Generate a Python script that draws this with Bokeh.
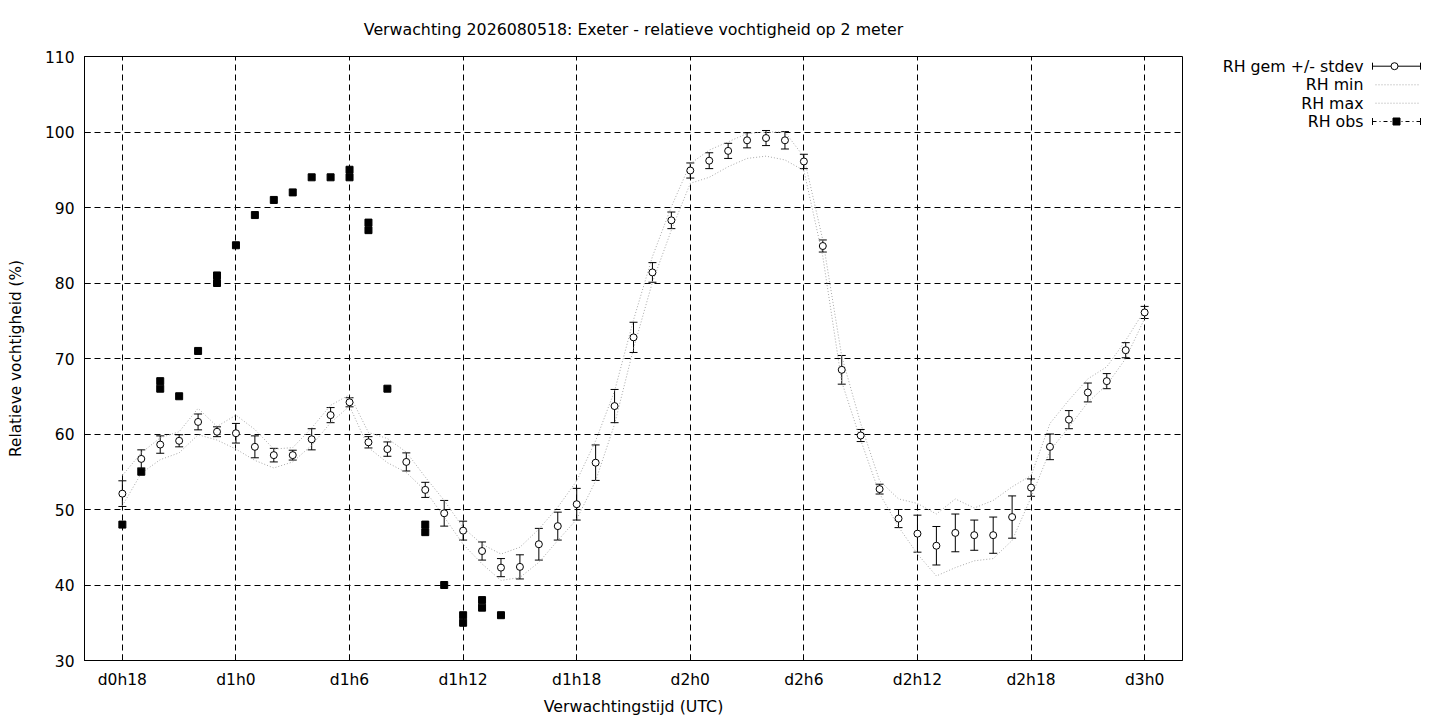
from bokeh.plotting import figure
from bokeh.models import Range1d, FixedTicker, Whisker, TeeHead, ColumnDataSource
from bokeh.layouts import row
from bokeh.embed import file_html
from bokeh.resources import INLINE
from bokeh.core.properties import value

# ---------------- data ----------------
hours = list(range(18, 73))
rh_mean = [52.1, 56.7, 58.6, 59.1, 61.6, 60.3, 60.1, 58.3, 57.2, 57.2,
           59.3, 62.5, 64.2, 58.9, 58.0, 56.3, 52.6, 49.5, 47.2, 44.5,
           42.3, 42.4, 45.4, 47.8, 50.7, 56.2, 63.7, 72.8, 81.4, 88.3,
           94.9, 96.2, 97.5, 98.9, 99.2, 98.9, 96.1, 84.9, 68.5, 59.8,
           52.7, 48.8, 46.8, 45.2, 46.9, 46.6, 46.6, 49.0, 52.9, 58.3,
           61.9, 65.5, 67.0, 71.1, 76.1]
rh_sd = [1.7, 1.2, 1.15, 0.8, 1.05, 0.65, 1.3, 1.45, 0.9, 0.65,
         1.4, 1.0, 0.6, 0.75, 0.95, 1.2, 1.0, 1.7, 1.25, 1.2,
         1.2, 1.6, 2.1, 1.85, 2.1, 2.35, 2.2, 2.0, 1.3, 1.1,
         1.0, 1.05, 1.0, 1.0, 1.0, 1.15, 0.95, 0.8, 1.9, 0.8,
         0.65, 1.2, 2.45, 2.55, 2.5, 2.0, 2.4, 2.8, 1.15, 1.7,
         1.2, 1.25, 1.0, 1.0, 0.8]
rh_max = [54.5, 57.5, 59.5, 60.3, 63.4, 61.0, 62.5, 60.6, 58.0, 58.2,
          60.8, 63.8, 65.2, 60.2, 59.4, 57.6, 54.3, 51.2, 47.6, 45.4,
          44.1, 45.0, 47.4, 50.3, 53.8, 59.1, 65.7, 75.1, 83.5, 90.1,
          95.8, 97.6, 98.7, 99.8, 100.0, 100.0, 96.7, 85.7, 70.3, 61.4,
          53.8, 51.4, 50.8, 49.4, 51.4, 50.2, 51.2, 53.0, 54.5, 61.4,
          64.5, 67.3, 68.9, 72.4, 76.4]
rh_min = [50.5, 54.8, 56.6, 57.5, 59.9, 59.2, 58.0, 56.5, 55.5, 56.3,
          58.5, 61.5, 63.7, 58.2, 56.2, 54.9, 52.5, 49.0, 45.4, 42.8,
          40.6, 41.0, 43.0, 45.9, 48.7, 53.8, 61.3, 71.3, 80.1, 87.0,
          93.2, 94.0, 95.4, 96.5, 96.8, 96.3, 94.9, 83.5, 66.9, 59.2,
          52.1, 47.7, 44.1, 41.2, 42.3, 43.2, 43.5, 45.9, 51.6, 57.8,
          60.9, 64.2, 66.5, 70.0, 75.3]
obs_hours = [18, 19, 20, 20, 21, 22, 23, 23, 24, 25, 26, 27, 28, 29, 30, 30,
             31, 31, 32, 34, 34, 35, 36, 36, 37, 37, 38]
obs_values = [48, 55, 67, 66, 65, 71, 81, 80, 85, 89, 91, 92, 94, 94, 95, 94,
              88, 87, 66, 48, 47, 40, 36, 35, 38, 37, 36]
tick_hours = [18, 24, 30, 36, 42, 48, 54, 60, 66, 72]
tick_labels = ["d0h18", "d1h0", "d1h6", "d1h12", "d1h18", "d2h0", "d2h6",
               "d2h12", "d2h18", "d3h0"]
y_ticks = [30, 40, 50, 60, 70, 80, 90, 100, 110]
legend_labels = ["RH gem +/- stdev", "RH min", "RH max", "RH obs"]

FONT = "DejaVu Sans"
FS_BIG = "15.8px"
FS_TICK = "15.5px"
FS_YLAB = "15.3px"
ENV_COLOR = "#a8a8a8"

# ---------------- main figure ----------------
p = figure(frame_width=1098, frame_height=604,
           x_range=Range1d(16, 74), y_range=Range1d(30, 110),
           output_backend="svg", toolbar_location=None,
           min_border_left=84, min_border_right=10, min_border_top=56, min_border_bottom=58)
p.title.text = "Verwachting 2026080518: Exeter - relatieve vochtigheid op 2 meter"
p.title.align = "center"
p.title.text_font = FONT
p.title.text_font_size = FS_BIG
p.title.text_font_style = "normal"
p.title.text_color = "black"
p.title.standoff = 35

p.outline_line_color = "black"
p.outline_line_width = 1
p.background_fill_color = "white"
p.border_fill_color = "white"

for ax in (p.xaxis, p.yaxis):
    ax.major_label_text_font = FONT
    ax.major_label_text_font_size = FS_TICK
    ax.major_label_text_color = "black"
    ax.axis_label_text_font = FONT
    ax.axis_label_text_font_style = "normal"
    ax.axis_label_text_color = "black"
    ax.major_tick_in = 6
    ax.major_tick_out = 0
    ax.major_tick_line_color = "black"
    ax.minor_tick_line_color = None
    ax.axis_line_color = "black"

p.xaxis.ticker = FixedTicker(ticks=tick_hours)
p.xaxis.major_label_overrides = {h: l for h, l in zip(tick_hours, tick_labels)}
p.xaxis.axis_label = "Verwachtingstijd (UTC)"
p.xaxis.axis_label_text_font_size = FS_BIG
p.xaxis.major_label_standoff = 10
p.xaxis.axis_label_standoff = 5
p.yaxis.ticker = FixedTicker(ticks=y_ticks)
p.yaxis.axis_label = "Relatieve vochtigheid (%)"
p.yaxis.axis_label_text_font_size = FS_YLAB
p.yaxis.major_label_standoff = 10
p.yaxis.axis_label_standoff = 17

p.xgrid.ticker = FixedTicker(ticks=tick_hours)
p.ygrid.ticker = FixedTicker(ticks=y_ticks)
for g in (p.xgrid, p.ygrid):
    g.grid_line_color = "black"
    g.grid_line_dash = "6 4"
    g.grid_line_width = 1
    g.grid_line_alpha = 1.0

# min / max envelopes
p.line(hours, rh_max, line_color=ENV_COLOR, line_dash="1 2", line_width=1)
p.line(hours, rh_min, line_color=ENV_COLOR, line_dash="1 2", line_width=1)

# mean +/- stdev
src = ColumnDataSource(dict(
    hour=hours, mean=rh_mean,
    upper=[m + s for m, s in zip(rh_mean, rh_sd)],
    lower=[m - s for m, s in zip(rh_mean, rh_sd)],
))
wh = Whisker(source=src, base="hour", upper="upper", lower="lower",
             line_color="black", line_width=1,
             upper_head=TeeHead(size=8, line_color="black", line_width=1),
             lower_head=TeeHead(size=8, line_color="black", line_width=1))
p.add_layout(wh)
p.scatter("hour", "mean", source=src, marker="circle", size=7,
          fill_color="white", line_color="black", line_width=1)

# observations
p.scatter(obs_hours, obs_values, marker="square", size=7,
          fill_color="black", line_color="black")

# ---------------- legend panel (its frame is aligned with the main frame) ----------------
LX0 = 1192
lg = figure(width=240, height=718, x_range=Range1d(LX0, LX0 + 240), y_range=Range1d(660, 56),
            output_backend="svg", toolbar_location=None, title=None,
            x_axis_location=None, y_axis_location=None,
            min_border=0, min_border_left=0, min_border_right=0,
            min_border_top=0, min_border_bottom=0)
lg.grid.visible = False
lg.outline_line_color = None
lg.background_fill_color = "white"
lg.border_fill_color = "white"

rows_y = [65.7, 84.3, 102.7, 121.0]
lg.text(x=[1363] * 4, y=rows_y, text=legend_labels, text_align="right",
        text_baseline="middle", text_font=value(FONT), text_font_size=value(FS_BIG),
        text_color="black")
# gem sample
lg.line([1372, 1420], [rows_y[0], rows_y[0]], line_color="black", line_width=1)
lg.segment(x0=[1372, 1420], y0=[rows_y[0] - 3.5] * 2, x1=[1372, 1420], y1=[rows_y[0] + 3.5] * 2,
           line_color="black", line_width=1)
lg.scatter([1394], [rows_y[0]], marker="circle", size=7, fill_color="white",
           line_color="black")
# min / max samples
for yy in rows_y[1:3]:
    lg.line([1375, 1418], [yy, yy], line_color=ENV_COLOR, line_dash="1 2", line_width=1)
# obs sample
lg.line([1372, 1420], [rows_y[3], rows_y[3]], line_color="black", line_width=1,
        line_dash="4 3 1 3")
lg.segment(x0=[1372, 1420], y0=[rows_y[3] - 3.5] * 2, x1=[1372, 1420], y1=[rows_y[3] + 3.5] * 2,
           line_color="black", line_width=1)
lg.scatter([1396], [rows_y[3]], marker="square", size=7, fill_color="black",
           line_color="black")

layout = row(p, lg)
open("out.html", "w").write(file_html(layout, INLINE))
